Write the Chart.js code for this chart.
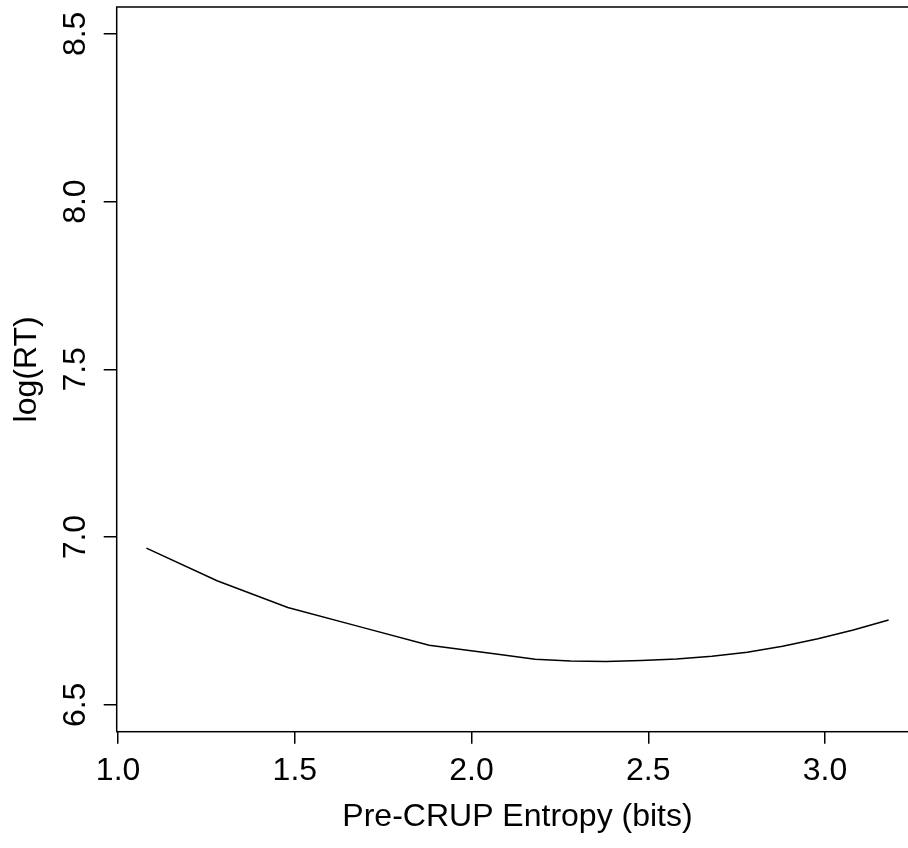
<!DOCTYPE html>
<html>
<head>
<meta charset="utf-8">
<script src="https://cdn.jsdelivr.net/npm/chart.js@4/dist/chart.umd.min.js"></script>
<style>
html, body { margin: 0; padding: 0; background: #fff; overflow: hidden; }
#wrap { width: 920px; height: 848px; }
</style>
</head>
<body>
<div id="wrap"><canvas id="c" width="920" height="848"></canvas></div>
<script>
// Data
const entropy = [1.08, 1.28, 1.48, 1.68, 1.88, 2.08, 2.18, 2.28, 2.38, 2.48, 2.58, 2.68, 2.78, 2.88, 2.98, 3.08, 3.18];
const logRT   = [6.967, 6.870, 6.790, 6.734, 6.678, 6.650, 6.636, 6.631, 6.629, 6.632, 6.637, 6.645, 6.657, 6.675, 6.697, 6.723, 6.753];
const xTitle = 'Pre-CRUP Entropy (bits)';
const yTitle = 'log(RT)';
const xRange = [0.996, 3.264];
const yRange = [6.42, 8.58];

const FONT = 'Liberation Sans, Arial, Helvetica, sans-serif';

const boxPlugin = {
  id: 'box',
  afterDraw(chart) {
    const a = chart.chartArea, ctx = chart.ctx;
    ctx.save();
    ctx.strokeStyle = '#000';
    ctx.lineWidth = 1.5;
    ctx.strokeRect(a.left, a.top, a.right - a.left, a.bottom - a.top);
    ctx.restore();
  }
};

new Chart(document.getElementById('c'), {
  type: 'scatter',
  data: {
    datasets: [{
      data: entropy.map((x, i) => ({x: x, y: logRT[i]})),
      showLine: true,
      borderColor: '#000',
      borderWidth: 1.5,
      pointRadius: 0,
      tension: 0,
      fill: false
    }]
  },
  options: {
    responsive: false,
    animation: false,
    devicePixelRatio: 1,
    layout: { padding: { left: 0, right: 1.7, top: 7, bottom: 0 } },
    plugins: { legend: { display: false }, tooltip: { enabled: false } },
    scales: {
      x: {
        type: 'linear',
        min: xRange[0], max: xRange[1],
        afterFit(s) { s.height = 116.3; s.paddingLeft = 0; s.paddingRight = 0; },
        grid: { display: true, drawOnChartArea: false, drawTicks: true, tickLength: 12, color: '#000', lineWidth: 1.5 },
        border: { display: false },
        ticks: {
          stepSize: 0.5, includeBounds: false, autoSkip: false,
          maxRotation: 0, minRotation: 0,
          color: '#000', padding: 8,
          font: { family: FONT, size: 32 },
          callback: v => Number(v).toFixed(1)
        },
        title: { display: true, text: xTitle, color: '#000', font: { family: FONT, size: 32 }, padding: { top: 0, bottom: 12 } }
      },
      y: {
        type: 'linear',
        min: yRange[0], max: yRange[1],
        afterFit(s) { s.width = 116.7; s.paddingTop = 0; s.paddingBottom = 0; },
        grid: { display: true, drawOnChartArea: false, drawTicks: true, tickLength: 13, color: '#000', lineWidth: 1.5 },
        border: { display: false },
        ticks: {
          stepSize: 0.5, includeBounds: false, autoSkip: false,
          minRotation: 90, maxRotation: 90, crossAlign: 'center',
          color: '#000', padding: 5,
          font: { family: FONT, size: 32 },
          callback: v => Number(v).toFixed(1)
        },
        title: { display: true, text: yTitle, color: '#000', font: { family: FONT, size: 32 }, padding: { top: 8, bottom: 0 } }
      }
    }
  },
  plugins: [boxPlugin]
});
</script>
</body>
</html>
